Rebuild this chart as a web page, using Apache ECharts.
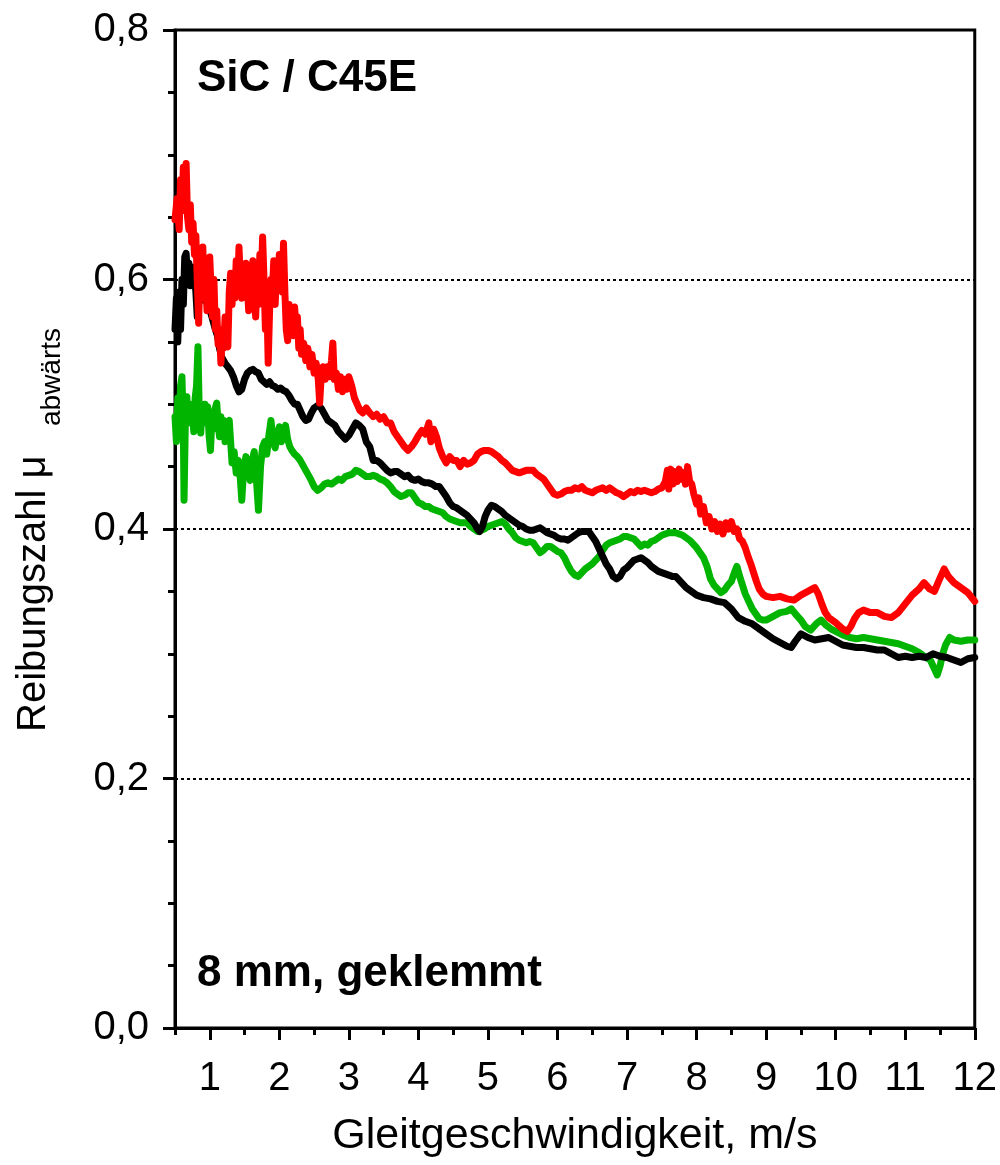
<!DOCTYPE html>
<html>
<head>
<meta charset="utf-8">
<title>SiC / C45E – Reibungszahl</title>
<script src="https://cdn.jsdelivr.net/npm/echarts@6/dist/echarts.min.js"></script>
<style>
  html, body { margin: 0; padding: 0; background: #fff; }
  #chart { width: 1000px; height: 1165px; }
</style>
</head>
<body>
<div id="chart"></div>
<script>
// Gleitgeschwindigkeit (m/s) vs. Reibungszahl, drei Messreihen
const seriesRed = [
  [0.50,0.648],[0.53,0.665],[0.56,0.640],[0.58,0.680],[0.60,0.655],[0.62,0.690],[0.64,0.670],[0.66,0.693],
  [0.68,0.650],[0.70,0.640],[0.72,0.660],[0.74,0.630],[0.76,0.645],[0.78,0.620],[0.80,0.635],[0.82,0.600],
  [0.84,0.565],[0.86,0.610],[0.88,0.590],[0.90,0.626],[0.92,0.585],[0.94,0.600],[0.96,0.575],[0.98,0.605],
  [1.00,0.618],[1.02,0.590],[1.04,0.570],[1.06,0.600],[1.08,0.560],[1.10,0.575],[1.12,0.548],[1.14,0.560],
  [1.16,0.533],[1.18,0.555],[1.20,0.545],[1.22,0.570],[1.24,0.550],[1.26,0.546],[1.28,0.590],[1.30,0.605],
  [1.32,0.580],[1.34,0.600],[1.36,0.585],[1.38,0.615],[1.40,0.590],[1.42,0.626],[1.44,0.600],[1.46,0.585],
  [1.48,0.610],[1.50,0.590],[1.52,0.613],[1.54,0.595],[1.56,0.575],[1.58,0.605],[1.60,0.585],[1.62,0.615],
  [1.64,0.595],[1.66,0.570],[1.68,0.605],[1.70,0.580],[1.72,0.620],[1.74,0.600],[1.76,0.634],[1.78,0.600],
  [1.80,0.560],[1.82,0.585],[1.84,0.533],[1.86,0.575],[1.88,0.600],[1.90,0.590],[1.92,0.615],[1.94,0.580],
  [1.96,0.605],[1.98,0.595],[2.00,0.620],[2.02,0.600],[2.04,0.590],[2.06,0.629],[2.08,0.590],[2.10,0.560],
  [2.12,0.551],[2.14,0.580],[2.16,0.565],[2.18,0.575],[2.20,0.555],[2.22,0.578],[2.24,0.560],[2.26,0.570],
  [2.28,0.545],[2.30,0.560],[2.32,0.540],[2.35,0.549],[2.38,0.535],[2.41,0.545],[2.44,0.530],[2.47,0.540],
  [2.50,0.525],[2.53,0.533],[2.56,0.520],[2.58,0.501],[2.60,0.520],[2.63,0.530],[2.66,0.520],[2.69,0.530],
  [2.72,0.522],[2.75,0.535],[2.77,0.549],[2.79,0.520],[2.82,0.525],[2.85,0.512],[2.88,0.522],[2.91,0.510],
  [2.94,0.520],[2.97,0.512],[3.00,0.522],[3.04,0.515],[3.08,0.505],[3.12,0.500],[3.16,0.495],[3.20,0.493],
  [3.25,0.497],[3.30,0.493],[3.35,0.490],[3.40,0.492],[3.45,0.488],[3.50,0.490],[3.55,0.485],[3.60,0.485],
  [3.65,0.478],[3.70,0.474],[3.75,0.470],[3.80,0.466],[3.85,0.463],[3.90,0.466],[3.95,0.470],[4.00,0.475],
  [4.05,0.479],[4.10,0.476],[4.15,0.485],[4.18,0.470],[4.22,0.480],[4.26,0.474],[4.30,0.465],[4.35,0.458],
  [4.40,0.453],[4.45,0.458],[4.50,0.455],[4.55,0.455],[4.60,0.450],[4.65,0.455],[4.70,0.452],[4.75,0.453],
  [4.80,0.455],[4.85,0.460],[4.90,0.462],[4.95,0.463],[5.00,0.463],[5.05,0.462],[5.10,0.460],[5.15,0.458],
  [5.20,0.455],[5.25,0.453],[5.30,0.450],[5.35,0.447],[5.40,0.446],[5.45,0.445],[5.50,0.446],[5.55,0.447],
  [5.60,0.447],[5.65,0.447],[5.70,0.444],[5.75,0.442],[5.80,0.440],[5.85,0.436],[5.90,0.432],[5.95,0.428],
  [6.00,0.427],[6.05,0.428],[6.10,0.430],[6.15,0.431],[6.20,0.431],[6.25,0.433],[6.30,0.432],[6.35,0.434],
  [6.40,0.431],[6.45,0.430],[6.50,0.429],[6.55,0.431],[6.60,0.432],[6.65,0.433],[6.70,0.431],[6.75,0.433],
  [6.80,0.431],[6.85,0.429],[6.90,0.428],[6.95,0.426],[7.00,0.428],[7.05,0.430],[7.10,0.429],[7.15,0.431],
  [7.20,0.430],[7.25,0.431],[7.30,0.430],[7.35,0.429],[7.40,0.430],[7.45,0.432],[7.50,0.433],[7.55,0.438],
  [7.58,0.447],[7.60,0.432],[7.63,0.448],[7.66,0.436],[7.69,0.446],[7.72,0.438],[7.75,0.448],[7.78,0.440],
  [7.81,0.445],[7.84,0.436],[7.87,0.450],[7.90,0.438],[7.93,0.436],[7.96,0.428],[8.00,0.420],[8.03,0.425],
  [8.06,0.412],[8.10,0.418],[8.14,0.405],[8.18,0.410],[8.22,0.400],[8.26,0.406],[8.30,0.398],[8.34,0.404],
  [8.38,0.396],[8.42,0.405],[8.46,0.400],[8.50,0.406],[8.54,0.398],[8.58,0.400],[8.62,0.392],[8.66,0.390],
  [8.70,0.385],[8.74,0.378],[8.78,0.372],[8.82,0.365],[8.86,0.358],[8.90,0.352],[8.95,0.348],[9.00,0.346],
  [9.10,0.345],[9.20,0.346],[9.30,0.344],[9.40,0.343],[9.50,0.347],[9.60,0.350],[9.70,0.353],[9.75,0.348],
  [9.80,0.340],[9.85,0.333],[9.90,0.329],[10.00,0.325],[10.10,0.320],[10.17,0.318],[10.22,0.322],[10.27,0.328],
  [10.33,0.333],[10.40,0.335],[10.50,0.333],[10.60,0.333],[10.70,0.330],[10.80,0.329],[10.90,0.333],[11.00,0.340],
  [11.10,0.347],[11.20,0.352],[11.27,0.357],[11.35,0.352],[11.42,0.350],[11.48,0.358],[11.56,0.368],[11.62,0.362],
  [11.70,0.357],[11.80,0.353],[11.90,0.349],[12.00,0.342]
];

const seriesBlack = [
  [0.50,0.560],[0.52,0.585],[0.54,0.550],[0.56,0.590],[0.58,0.560],[0.60,0.600],[0.62,0.580],[0.64,0.618],
  [0.66,0.621],[0.68,0.600],[0.70,0.613],[0.72,0.595],[0.74,0.610],[0.76,0.598],[0.78,0.605],[0.80,0.590],
  [0.82,0.570],[0.84,0.590],[0.86,0.592],[0.88,0.585],[0.90,0.590],[0.93,0.583],[0.96,0.586],[0.99,0.578],
  [1.02,0.572],[1.05,0.566],[1.08,0.560],[1.11,0.555],[1.14,0.545],[1.17,0.538],[1.20,0.535],[1.23,0.532],
  [1.26,0.530],[1.30,0.527],[1.34,0.522],[1.38,0.515],[1.42,0.510],[1.46,0.512],[1.50,0.520],[1.54,0.525],
  [1.58,0.527],[1.62,0.528],[1.66,0.526],[1.70,0.525],[1.74,0.520],[1.78,0.518],[1.82,0.516],[1.86,0.518],
  [1.90,0.515],[1.94,0.514],[1.98,0.512],[2.02,0.513],[2.06,0.511],[2.10,0.510],[2.14,0.507],[2.18,0.503],
  [2.22,0.500],[2.26,0.500],[2.30,0.495],[2.34,0.490],[2.38,0.487],[2.42,0.488],[2.46,0.493],[2.50,0.497],
  [2.55,0.499],[2.60,0.497],[2.65,0.492],[2.70,0.487],[2.75,0.485],[2.80,0.483],[2.85,0.478],[2.90,0.475],
  [2.95,0.472],[3.00,0.475],[3.05,0.480],[3.10,0.485],[3.15,0.483],[3.20,0.480],[3.25,0.470],[3.30,0.466],
  [3.35,0.455],[3.40,0.455],[3.45,0.453],[3.50,0.450],[3.55,0.447],[3.60,0.445],[3.65,0.446],[3.70,0.446],
  [3.75,0.444],[3.80,0.442],[3.85,0.443],[3.90,0.440],[3.95,0.439],[4.00,0.440],[4.05,0.438],[4.10,0.437],
  [4.15,0.437],[4.20,0.436],[4.25,0.434],[4.30,0.434],[4.35,0.430],[4.40,0.426],[4.45,0.421],[4.50,0.418],
  [4.55,0.417],[4.60,0.415],[4.65,0.413],[4.70,0.411],[4.75,0.408],[4.80,0.405],[4.85,0.400],[4.88,0.398],
  [4.92,0.402],[4.96,0.410],[5.00,0.415],[5.05,0.419],[5.10,0.418],[5.15,0.416],[5.20,0.414],[5.25,0.411],
  [5.30,0.409],[5.35,0.407],[5.40,0.405],[5.45,0.403],[5.50,0.402],[5.55,0.400],[5.60,0.399],[5.65,0.399],
  [5.70,0.400],[5.75,0.401],[5.80,0.399],[5.85,0.397],[5.90,0.396],[5.95,0.395],[6.00,0.393],[6.05,0.392],
  [6.10,0.392],[6.15,0.391],[6.20,0.393],[6.25,0.395],[6.30,0.397],[6.35,0.398],[6.40,0.398],[6.45,0.398],
  [6.50,0.394],[6.55,0.390],[6.60,0.384],[6.65,0.378],[6.70,0.372],[6.75,0.368],[6.80,0.362],[6.85,0.360],
  [6.90,0.362],[6.95,0.367],[7.00,0.369],[7.05,0.372],[7.10,0.375],[7.15,0.376],[7.20,0.377],[7.25,0.375],
  [7.30,0.373],[7.35,0.370],[7.40,0.368],[7.45,0.366],[7.50,0.365],[7.55,0.364],[7.60,0.363],[7.65,0.362],
  [7.70,0.362],[7.75,0.359],[7.80,0.356],[7.85,0.353],[7.90,0.351],[7.95,0.349],[8.00,0.347],[8.10,0.345],
  [8.20,0.344],[8.30,0.342],[8.40,0.341],[8.50,0.336],[8.60,0.329],[8.70,0.326],[8.80,0.324],[8.90,0.320],
  [9.00,0.316],[9.10,0.312],[9.20,0.309],[9.30,0.306],[9.36,0.305],[9.42,0.310],[9.50,0.316],[9.60,0.313],
  [9.70,0.311],[9.80,0.312],[9.90,0.313],[10.00,0.310],[10.10,0.307],[10.20,0.306],[10.30,0.305],[10.40,0.305],
  [10.50,0.304],[10.60,0.303],[10.70,0.303],[10.80,0.300],[10.90,0.297],[11.00,0.298],[11.10,0.297],[11.20,0.298],
  [11.30,0.297],[11.40,0.300],[11.50,0.298],[11.60,0.297],[11.70,0.295],[11.80,0.293],[11.90,0.296],[12.00,0.297]
];

const seriesGreen = [
  [0.50,0.490],[0.52,0.470],[0.54,0.505],[0.56,0.480],[0.58,0.515],[0.60,0.522],[0.62,0.480],[0.63,0.423],
  [0.65,0.490],[0.67,0.506],[0.69,0.485],[0.71,0.500],[0.73,0.490],[0.75,0.495],[0.77,0.478],[0.79,0.505],
  [0.81,0.515],[0.83,0.546],[0.85,0.490],[0.87,0.477],[0.89,0.498],[0.91,0.485],[0.93,0.500],[0.95,0.492],
  [0.97,0.498],[0.99,0.475],[1.01,0.463],[1.03,0.488],[1.05,0.480],[1.07,0.495],[1.10,0.501],[1.12,0.485],
  [1.14,0.474],[1.16,0.490],[1.18,0.478],[1.20,0.487],[1.22,0.470],[1.25,0.485],[1.28,0.487],[1.30,0.470],
  [1.32,0.453],[1.35,0.462],[1.38,0.445],[1.41,0.455],[1.44,0.440],[1.46,0.423],[1.49,0.450],[1.52,0.458],
  [1.55,0.445],[1.58,0.439],[1.61,0.455],[1.64,0.462],[1.67,0.440],[1.70,0.415],[1.73,0.450],[1.76,0.466],
  [1.79,0.470],[1.82,0.460],[1.85,0.475],[1.88,0.487],[1.91,0.470],[1.94,0.465],[1.97,0.475],[2.00,0.482],
  [2.03,0.470],[2.06,0.478],[2.09,0.483],[2.12,0.472],[2.15,0.466],[2.18,0.463],[2.22,0.460],[2.26,0.458],
  [2.30,0.455],[2.35,0.450],[2.40,0.445],[2.45,0.440],[2.50,0.434],[2.55,0.431],[2.60,0.433],[2.65,0.436],
  [2.70,0.437],[2.75,0.436],[2.80,0.438],[2.85,0.440],[2.90,0.439],[2.95,0.442],[3.00,0.443],[3.05,0.444],
  [3.10,0.447],[3.15,0.446],[3.20,0.444],[3.25,0.442],[3.30,0.442],[3.35,0.443],[3.40,0.442],[3.45,0.440],
  [3.50,0.439],[3.55,0.437],[3.60,0.434],[3.65,0.430],[3.70,0.428],[3.75,0.426],[3.80,0.427],[3.85,0.429],
  [3.90,0.429],[3.95,0.425],[4.00,0.421],[4.05,0.420],[4.10,0.418],[4.15,0.418],[4.20,0.416],[4.25,0.415],
  [4.30,0.414],[4.35,0.413],[4.40,0.410],[4.45,0.408],[4.50,0.407],[4.55,0.406],[4.60,0.405],[4.65,0.405],
  [4.70,0.405],[4.75,0.402],[4.80,0.400],[4.85,0.398],[4.90,0.399],[4.95,0.400],[5.00,0.402],[5.05,0.403],
  [5.10,0.404],[5.15,0.405],[5.20,0.406],[5.25,0.404],[5.30,0.400],[5.35,0.397],[5.40,0.393],[5.45,0.391],
  [5.50,0.390],[5.55,0.389],[5.60,0.390],[5.65,0.389],[5.70,0.385],[5.75,0.381],[5.80,0.383],[5.85,0.386],
  [5.90,0.386],[5.95,0.384],[6.00,0.382],[6.05,0.381],[6.10,0.377],[6.15,0.371],[6.20,0.366],[6.25,0.363],
  [6.30,0.362],[6.35,0.365],[6.40,0.368],[6.45,0.370],[6.50,0.372],[6.55,0.375],[6.60,0.378],[6.65,0.383],
  [6.70,0.387],[6.75,0.389],[6.80,0.390],[6.85,0.391],[6.90,0.392],[6.95,0.394],[7.00,0.394],[7.05,0.393],
  [7.10,0.392],[7.15,0.389],[7.20,0.386],[7.25,0.388],[7.30,0.387],[7.35,0.390],[7.40,0.391],[7.45,0.393],
  [7.50,0.395],[7.55,0.396],[7.60,0.397],[7.65,0.397],[7.70,0.397],[7.75,0.396],[7.80,0.395],[7.85,0.393],
  [7.90,0.391],[7.95,0.388],[8.00,0.385],[8.05,0.381],[8.10,0.377],[8.15,0.370],[8.20,0.360],[8.25,0.355],
  [8.30,0.352],[8.35,0.349],[8.40,0.351],[8.45,0.355],[8.50,0.358],[8.55,0.366],[8.58,0.370],[8.62,0.362],
  [8.66,0.355],[8.70,0.348],[8.75,0.342],[8.80,0.336],[8.85,0.332],[8.90,0.328],[8.95,0.327],[9.00,0.327],
  [9.10,0.330],[9.20,0.333],[9.30,0.334],[9.36,0.336],[9.42,0.332],[9.50,0.327],[9.56,0.322],[9.64,0.319],
  [9.72,0.324],[9.79,0.327],[9.86,0.323],[9.93,0.320],[10.00,0.318],[10.10,0.315],[10.20,0.313],[10.30,0.312],
  [10.40,0.313],[10.50,0.312],[10.60,0.311],[10.70,0.310],[10.80,0.309],[10.90,0.308],[11.00,0.306],[11.10,0.304],
  [11.20,0.301],[11.30,0.297],[11.36,0.295],[11.42,0.288],[11.46,0.283],[11.50,0.290],[11.54,0.300],[11.58,0.307],
  [11.64,0.313],[11.70,0.311],[11.80,0.310],[11.90,0.311],[12.00,0.311]
];

// Achsenbeschriftung
const xMajorTicks = [1, 2, 3, 4, 5, 6, 7, 8, 9, 10, 11, 12];
const xMinorTicks = [0.5, 1.5, 2.5, 3.5, 4.5, 5.5, 6.5, 7.5, 8.5, 9.5, 10.5, 11.5];
const yTicks = [0, 0.2, 0.4, 0.6, 0.8];

const FONT = '"Liberation Sans", Arial, Helvetica, sans-serif';

const chart = echarts.init(document.getElementById('chart'), null, { renderer: 'canvas' });

const lineSeries = (name, data, color) => ({
  name, type: 'line', data, xAxisIndex: 0, yAxisIndex: 0,
  showSymbol: false, symbol: 'none', smooth: false,
  lineStyle: { color, width: 7, join: 'round', cap: 'round' },
  silent: true, clip: true
});

chart.setOption({
  animation: false,
  backgroundColor: '#fff',
  textStyle: { fontFamily: FONT },
  grid: {
    left: 175, right: 24, top: 30, bottom: 137,
    show: true, borderColor: '#000', borderWidth: 3, backgroundColor: 'transparent'
  },
  xAxis: [
    {
      type: 'value', min: 0.5, max: 12,
      axisLine: { show: true, onZero: false, lineStyle: { color: '#000', width: 3 } },
      axisTick: { show: true, inside: false, length: 12, customValues: xMajorTicks, lineStyle: { color: '#000', width: 3 } },
      axisLabel: { show: true, customValues: xMajorTicks, margin: 31, color: '#000', fontSize: 40, fontFamily: FONT },
      splitLine: { show: false },
      name: 'Gleitgeschwindigkeit, m/s', nameLocation: 'middle', nameGap: 87,
      nameTextStyle: { color: '#000', fontSize: 43, fontFamily: FONT }
    },
    {
      type: 'value', min: 0.5, max: 12, position: 'bottom',
      axisLine: { show: false, onZero: false },
      axisTick: { show: true, inside: false, length: 7, customValues: xMinorTicks, lineStyle: { color: '#000', width: 3 } },
      axisLabel: { show: false },
      splitLine: { show: false }
    }
  ],
  yAxis: [
    {
      type: 'value', min: 0, max: 0.8, interval: 0.2,
      axisLine: { show: true, onZero: false, lineStyle: { color: '#000', width: 3 } },
      axisTick: { show: true, inside: false, length: 12, lineStyle: { color: '#000', width: 3 } },
      minorTick: { show: true, splitNumber: 4, length: 7, lineStyle: { color: '#000', width: 3 } },
      axisLabel: {
        show: true, margin: 26, color: '#000', fontSize: 40, fontFamily: FONT,
        customValues: yTicks,
        formatter: v => v.toFixed(1).replace('.', ',')
      },
      splitLine: { show: true, lineStyle: { color: '#000', width: 2, type: [3, 3] } }
    }
  ],
  graphic: [
    {
      type: 'text', left: 197, top: 57, silent: true,
      style: { text: 'SiC / C45E', fill: '#000', font: 'bold 44px ' + FONT }
    },
    {
      type: 'text', left: 197, top: 952, silent: true,
      style: { text: '8 mm, geklemmt', fill: '#000', font: 'bold 44px ' + FONT }
    },
    {
      type: 'text', x: 54, y: 732, rotation: Math.PI / 2, silent: true,
      style: { text: 'Reibungszahl μ', fill: '#000', font: '40px ' + FONT, align: 'left', verticalAlign: 'bottom' }
    },
    {
      type: 'text', x: 66, y: 426, rotation: Math.PI / 2, silent: true,
      style: { text: 'abwärts', fill: '#000', font: '28px ' + FONT, align: 'left', verticalAlign: 'bottom' }
    }
  ],
  series: [
    lineSeries('grün', seriesGreen, '#00b400'),
    lineSeries('schwarz', seriesBlack, '#000000'),
    lineSeries('rot', seriesRed, '#ff0000')
  ]
});
</script>
</body>
</html>
